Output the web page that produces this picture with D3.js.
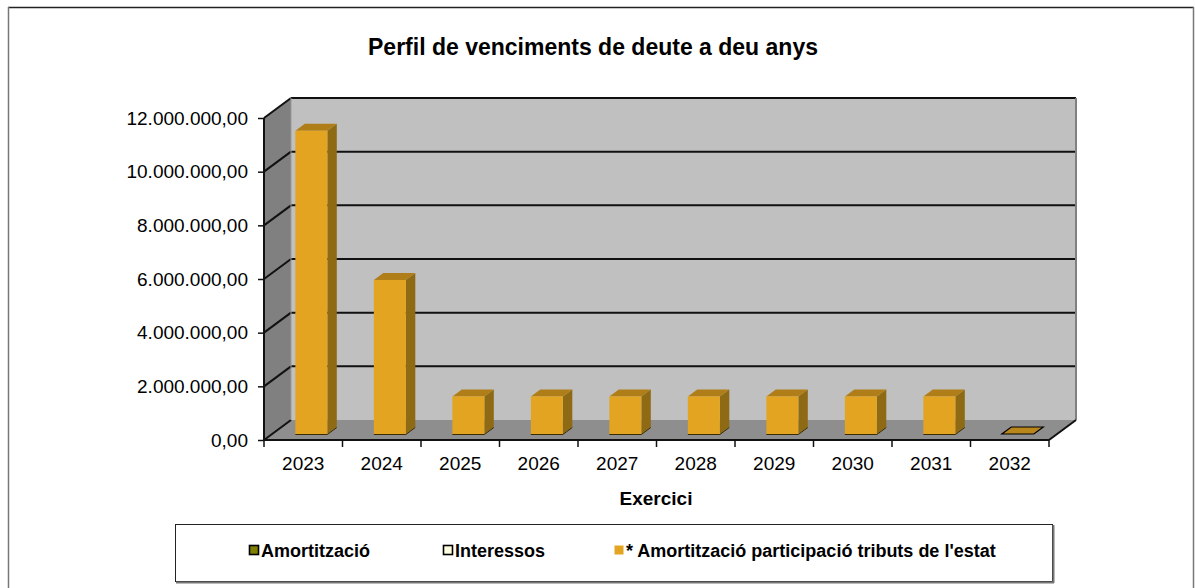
<!DOCTYPE html>
<html><head><meta charset="utf-8">
<script src="https://cdn.jsdelivr.net/npm/d3@7"></script>
<style>body{margin:0;background:#fff;}svg{display:block;font-family:Arial,"Liberation Sans",sans-serif;}</style>
</head><body>
<svg id="c" width="1195" height="588"></svg>
<script>
const categories = ["2023","2024","2025","2026","2027","2028","2029","2030","2031","2032"];
const amortitzacio = [0,0,0,0,0,0,0,0,0,0];
const interessos = [0,0,0,0,0,0,0,0,0,0];
const amortPTE = [11300000,5740000,1400000,1400000,1400000,1400000,1400000,1400000,1400000,0];
const yTicks = [0,2000000,4000000,6000000,8000000,10000000,12000000];
const legendLabels = ["Amortització","Interessos","* Amortització participació tributs de l'estat"];
const legendColors = ["#808000","#FFFFE0","#E3A521"];

const svg = d3.select("#c");
const fmt = v => {
  const s = d3.format(",.2f")(v);
  return s.replace(/,/g,"#").replace(".",",").replace(/#/g,".");
};
// outer border
svg.append("line").attr("x1",8).attr("x2",1194).attr("y1",7.5).attr("y2",7.5).attr("stroke","#222").attr("stroke-width",1.5);
svg.append("line").attr("x1",8.5).attr("x2",8.5).attr("y1",7).attr("y2",588).attr("stroke","#777").attr("stroke-width",1.5);
svg.append("line").attr("x1",1193.5).attr("x2",1193.5).attr("y1",7).attr("y2",588).attr("stroke","#777").attr("stroke-width",1.5);

svg.append("text").attr("x",593).attr("y",55).attr("text-anchor","middle")
  .attr("font-weight","bold").attr("font-size",23).text("Perfil de venciments de deute a deu anys");

const x0 = 264, x1 = 1049, yb = 440, yt = 118;
const DX = 27, DY = -20;
const x = d3.scaleBand().domain(categories).range([x0,x1]).paddingInner(0).paddingOuter(0);
const y = d3.scaleLinear().domain([0,12000000]).range([yb,yt]);

const P = pts => pts.map(p=>p.join(",")).join(" ");
// back wall
svg.append("polygon").attr("points",P([[x0+DX,yt+DY],[x1+DX,yt+DY],[x1+DX,yb+DY],[x0+DX,yb+DY]])).attr("fill","#C0C0C0");
// left wall
svg.append("polygon").attr("points",P([[x0,yt],[x0+DX,yt+DY],[x0+DX,yb+DY],[x0,yb]])).attr("fill","#808080");
// floor
svg.append("polygon").attr("points",P([[x0,yb],[x0+DX,yb+DY],[x1+DX,yb+DY],[x1,yb]])).attr("fill","#8E8E8E");
// gridlines
yTicks.forEach(t=>{
  const yy = y(t);
  if (t>0) {
    svg.append("line").attr("x1",x0+DX).attr("x2",x1+DX).attr("y1",yy+DY).attr("y2",yy+DY).attr("stroke","#111").attr("stroke-width",2);
  }
  svg.append("line").attr("x1",x0).attr("x2",x0+DX).attr("y1",yy).attr("y2",yy+DY).attr("stroke","#111").attr("stroke-width",2);
});
svg.append("line").attr("x1",x1+DX).attr("x2",x1+DX).attr("y1",yt+DY).attr("y2",yb+DY).attr("stroke","#808080").attr("stroke-width",2);
svg.append("line").attr("x1",x0+DX).attr("x2",x0+DX).attr("y1",yt+DY).attr("y2",yb+DY).attr("stroke","#999").attr("stroke-width",1);
svg.append("line").attr("x1",x1).attr("x2",x1+DX).attr("y1",yb).attr("y2",yb+DY).attr("stroke","#111").attr("stroke-width",2);

// bars
const bw = 32, f0 = 0.3, f1 = 0.65;
const g = svg.append("g");
categories.forEach((c,i)=>{
  const v = amortPTE[i];
  const xl = x(c) + (x.bandwidth()-bw)/2 + DX*f0;
  const xr = xl + bw;
  const ybot = y(0) + DY*f0;
  const ytop = y(v) + DY*f0;
  const ddx = DX*(f1-f0), ddy = DY*(f1-f0);
  if (v <= 0) {
    g.append("polygon").attr("points",P([[xl,ybot],[xr,ybot],[xr+ddx,ybot+ddy],[xl+ddx,ybot+ddy]]))
      .attr("fill","#B8861A").attr("stroke","#000").attr("stroke-width",1.2);
    return;
  }
  g.append("polygon").attr("points",P([[xr,ytop],[xr+ddx,ytop+ddy],[xr+ddx,ybot+ddy],[xr,ybot]])).attr("fill","#8E6A14");
  g.append("polygon").attr("points",P([[xl,ytop],[xl+ddx,ytop+ddy],[xr+ddx,ytop+ddy],[xr,ytop]])).attr("fill","#B07E18");
  g.append("rect").attr("x",xl).attr("y",ytop).attr("width",bw).attr("height",ybot-ytop).attr("fill","#E3A521");
  g.append("line").attr("x1",xl).attr("x2",xr).attr("y1",ybot+0.5).attr("y2",ybot+0.5).attr("stroke","#3a2a00").attr("stroke-width",1.2);
  g.append("line").attr("x1",xr).attr("x2",xr+ddx).attr("y1",ybot+0.5).attr("y2",ybot+ddy+0.5).attr("stroke","#3a2a00").attr("stroke-width",1);
});

// front axes
svg.append("line").attr("x1",x0).attr("x2",x0).attr("y1",yt).attr("y2",yb).attr("stroke","#111").attr("stroke-width",2);
const yAxis = d3.axisLeft(y).tickValues(yTicks).tickSize(6).tickPadding(10).tickFormat(fmt);
const ya = svg.append("g").attr("transform",`translate(${x0},0)`).call(yAxis);
ya.select(".domain").remove();
ya.selectAll("line").attr("stroke","#111").attr("stroke-width",1.5);
ya.selectAll("text").attr("font-size",19).attr("font-family","Arial,'Liberation Sans',sans-serif").attr("fill","#000");

const xAxis = d3.axisBottom(x).tickSize(7).tickPadding(10).tickSizeOuter(0);
const xa = svg.append("g").attr("transform",`translate(0,${yb})`).call(xAxis);
xa.select(".domain").attr("stroke","#111").attr("stroke-width",2).attr("d",`M${x0},0H${x1}`);
xa.selectAll(".tick line").remove();
categories.concat(["_end"]).forEach((c,i)=>{
  const xx = x0 + i*x.bandwidth();
  xa.append("line").attr("x1",xx).attr("x2",xx).attr("y1",0).attr("y2",7).attr("stroke","#111").attr("stroke-width",1.5);
});
xa.selectAll("text").attr("font-size",19).attr("font-family","Arial,'Liberation Sans',sans-serif").attr("fill","#000");

svg.append("text").attr("x",656).attr("y",505).attr("text-anchor","middle").attr("font-weight","bold").attr("font-size",19).text("Exercici");

// legend
svg.append("rect").attr("x",175.5).attr("y",524.5).attr("width",877).attr("height",57).attr("fill","#fff").attr("stroke","#222").attr("stroke-width",1);
svg.append("line").attr("x1",176).attr("x2",1054).attr("y1",582.5).attr("y2",582.5).attr("stroke","#777").attr("stroke-width",2);
svg.append("line").attr("x1",1053.5).attr("x2",1053.5).attr("y1",525).attr("y2",583).attr("stroke","#777").attr("stroke-width",2);
const lx = [249,443,614];
legendLabels.forEach((l,i)=>{
  const lg = svg.append("g").attr("transform",`translate(${lx[i]},557)`);
  lg.append("rect").attr("x",0.5).attr("y",-11.5).attr("width",9).attr("height",9)
    .attr("fill",legendColors[i]).attr("stroke", i<2 ? "#000":"none").attr("stroke-width",1.6);
  lg.append("text").attr("x",12).attr("y",0).attr("font-weight","bold").attr("font-size",18).text(l);
});
</script>
</body></html>
